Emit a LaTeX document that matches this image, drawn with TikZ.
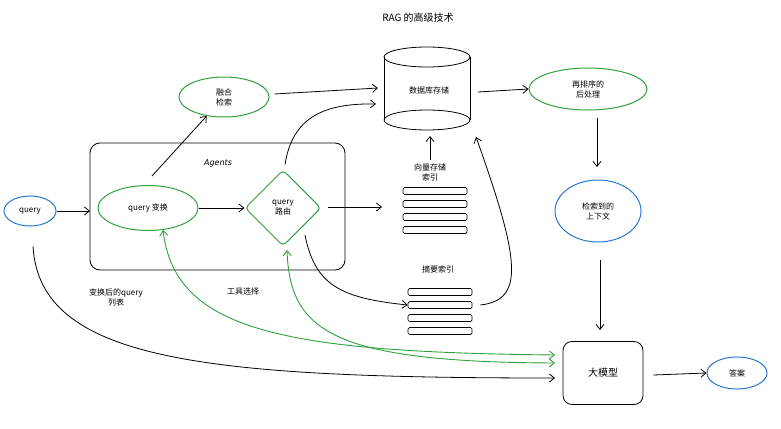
\documentclass[tikz,border=0pt]{standalone}
\usepackage{fontspec}
\setmainfont{Noto Sans CJK SC}
\newfontfamily\agf{DejaVu Sans}
\usetikzlibrary{shapes.geometric,arrows.meta}
\definecolor{gr}{RGB}{46,160,60}
\definecolor{bl}{RGB}{40,120,210}
\begin{document}
\begin{tikzpicture}[x=1pt,y=-1pt,font=\fontsize{8}{10}\selectfont,
 arr/.style={-{Straight Barb[length=5pt,width=8pt]},line width=0.8pt},
 garr/.style={{Straight Barb[length=5pt,width=8pt]}-{Straight Barb[length=5pt,width=8pt]},line width=0.9pt,draw=gr},
 ge/.style={ellipse,draw=gr,line width=1pt,align=center,inner sep=0},
 be/.style={ellipse,draw=bl,line width=1pt,align=center,inner sep=0},
 bar/.style={draw,rounded corners=1.5pt,line width=0.7pt,minimum width=64pt,minimum height=7pt,inner sep=0}]
\useasboundingbox (0,0) rectangle (781,428);
\node (title) at (418,18) {\fontsize{10}{12}\selectfont RAG 的高级技术};
\node[be,minimum width=52pt,minimum height=30pt] (q) at (30,211) {query};
\draw[line width=0.8pt,rounded corners=10pt] (90,143) rectangle (345,270);
\coordinate (boxl) at (90,211);
\node (ag) at (218,163) {\agf\itshape Agents};
\node[ge,minimum width=100pt,minimum height=45pt] (qt) at (148,208) {query 变换};
\node[diamond,draw=gr,line width=1pt,rounded corners=4pt,minimum width=76pt,minimum height=76pt,align=center,inner sep=0] (qr) at (283,208) {query\\路由};
\node[ge,minimum width=90pt,minimum height=40pt] (fs) at (224,97) {融合\\检索};
% cylinder
\draw[line width=0.8pt] (384,57) -- (384,120);
\draw[line width=0.8pt] (470,57) -- (470,120);
\draw[line width=0.8pt] (427,57) ellipse[x radius=43,y radius=10];
\draw[line width=0.8pt] (427,120) ellipse[x radius=43,y radius=10];
\node (db) at (429,90) {数据库存储};
\coordinate (dbl1) at (378,88);\coordinate (dbl2) at (376,104);\coordinate (dbb) at (430,136);\coordinate (dbb2) at (476,137);
\node[ge,minimum width=118pt,minimum height=42pt] (rr) at (588,89) {再排序的\\后处理};
\node[be,minimum width=86pt,minimum height=62pt] (ctx) at (598,211) {检索到的\\上下文};
\node[draw,line width=0.8pt,rounded corners=9pt,minimum width=80pt,minimum height=63pt] (llm) at (603,373) {\fontsize{10}{12}\selectfont 大模型};
\node[be,minimum width=60pt,minimum height=32pt] (ans) at (737,373) {答案};
\node[align=center] (vt) at (430,172) {向量存储\\索引};
\foreach \y/\n in {191/v1,204/v2,217/v3,230/v4} \node[bar] (\n) at (435,\y) {};
\node (st) at (438,269) {摘要索引};
\foreach \y/\n in {292/s1,305/s2,318/s3,331/s4} \node[bar] (\n) at (440,\y) {};
\node[align=center] (l1) at (116,297) {变换后的query\\列表};
\node (l2) at (243,291) {工具选择};
% arrows
\coordinate (rrs) at (597,118);\coordinate (ctxn) at (597,167);
\coordinate (ctxs) at (600,260);\coordinate (llmn) at (600,330);
\coordinate (qre) at (328,207);\coordinate (vin) at (382,207);
\draw[arr] (q) -- (boxl);
\draw[arr] (qt) -- (qr);
\draw[arr] (152,176) -- (fs);
\draw[arr] (fs.east) ++(5,-3) -- (dbl1);
\draw[arr] (qr.north) ++(2,-5) .. controls (292,120) and (320,103) .. (dbl2);
\draw[arr] (qre) -- (vin);
\draw[arr] (305,235) .. controls (315,285) and (340,298) .. (s2.west);
\draw[arr] (s2.east) ++(8,0) .. controls (525,300) and (520,260) .. (dbb2);
\draw[arr] (vt.north) -- (dbb);
\draw[arr] (478,92) -- (rr.west);
\draw[arr] (rrs) -- (ctxn);
\draw[arr] (ctxs) -- (llmn);
\draw[arr] (llm.east) ++(10,2) -- (ans.west);
\coordinate (g1) at (555,355);\coordinate (g2) at (555,363);\coordinate (k1) at (555,378);
\coordinate (qtb) at (163,230);\coordinate (qrb) at (287,250);
\draw[garr] (g1) .. controls (280,352) and (175,330) .. (qtb);
\draw[garr] (g2) .. controls (330,362) and (290,330) .. (qrb);
\draw[arr] (q.south) ++(3,20) .. controls (40,360) and (200,378) .. (k1);
\end{tikzpicture}
\end{document}
